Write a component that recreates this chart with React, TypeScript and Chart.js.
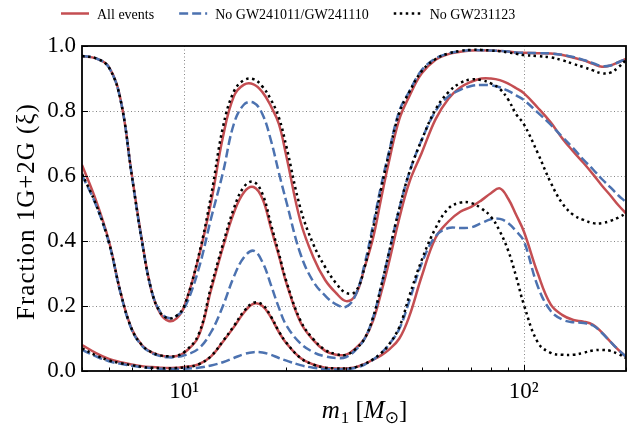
import { useEffect, useRef } from "react";
import { Chart, registerables } from "chart.js";

Chart.register(...registerables);

// primary mass grid (M_sun)
const masses = [5, 5.5, 6, 6.5, 7, 7.5, 8, 8.5, 9, 9.5, 10, 11, 12, 13, 14, 15, 16, 17, 18, 19, 20, 22, 24, 26, 28, 30, 32, 34, 36, 38, 40, 43, 46, 50, 55, 60, 65, 70, 75, 80, 85, 90, 95, 100, 110, 120, 130, 140, 150, 160, 170, 180, 190, 200];

// All events
const allUpper = [0.969, 0.962, 0.936, 0.834, 0.608, 0.405, 0.249, 0.177, 0.154, 0.162, 0.198, 0.345, 0.52, 0.72, 0.845, 0.881, 0.882, 0.858, 0.815, 0.76, 0.66, 0.46, 0.35, 0.28, 0.24, 0.215, 0.235, 0.32, 0.41, 0.53, 0.64, 0.775, 0.845, 0.915, 0.958, 0.975, 0.982, 0.986, 0.987, 0.986, 0.985, 0.983, 0.98, 0.979, 0.978, 0.977, 0.972, 0.964, 0.956, 0.945, 0.936, 0.94, 0.95, 0.96];
const allMid = [0.634, 0.524, 0.4, 0.24, 0.13, 0.08, 0.058, 0.048, 0.044, 0.046, 0.056, 0.105, 0.25, 0.38, 0.487, 0.55, 0.566, 0.53, 0.44, 0.355, 0.27, 0.15, 0.095, 0.062, 0.05, 0.05, 0.07, 0.1, 0.155, 0.24, 0.33, 0.47, 0.58, 0.67, 0.775, 0.838, 0.872, 0.89, 0.9, 0.9, 0.895, 0.884, 0.87, 0.855, 0.81, 0.765, 0.715, 0.675, 0.64, 0.605, 0.57, 0.54, 0.51, 0.485];
const allLow = [0.08, 0.055, 0.037, 0.027, 0.02, 0.015, 0.012, 0.01, 0.009, 0.01, 0.012, 0.02, 0.045, 0.09, 0.135, 0.18, 0.207, 0.2, 0.165, 0.12, 0.085, 0.04, 0.02, 0.01, 0.008, 0.008, 0.012, 0.022, 0.035, 0.048, 0.065, 0.1, 0.168, 0.29, 0.41, 0.46, 0.49, 0.505, 0.525, 0.547, 0.562, 0.53, 0.48, 0.43, 0.3, 0.205, 0.172, 0.157, 0.152, 0.142, 0.118, 0.09, 0.065, 0.044];

// No GW241011/GW241110
const noPairUpper = [0.969, 0.962, 0.934, 0.832, 0.605, 0.402, 0.25, 0.182, 0.163, 0.17, 0.192, 0.31, 0.47, 0.61, 0.76, 0.82, 0.826, 0.79, 0.71, 0.61, 0.52, 0.36, 0.275, 0.232, 0.205, 0.198, 0.235, 0.33, 0.45, 0.57, 0.67, 0.8, 0.86, 0.925, 0.962, 0.977, 0.984, 0.987, 0.987, 0.986, 0.985, 0.983, 0.98, 0.979, 0.978, 0.977, 0.973, 0.966, 0.957, 0.947, 0.938, 0.94, 0.95, 0.96];
const noPairMid = [0.603, 0.51, 0.395, 0.238, 0.128, 0.078, 0.056, 0.046, 0.042, 0.043, 0.048, 0.068, 0.12, 0.2, 0.29, 0.35, 0.37, 0.335, 0.265, 0.195, 0.14, 0.085, 0.058, 0.045, 0.04, 0.043, 0.065, 0.1, 0.165, 0.26, 0.36, 0.5, 0.61, 0.71, 0.8, 0.845, 0.865, 0.877, 0.88, 0.879, 0.873, 0.862, 0.848, 0.834, 0.795, 0.758, 0.72, 0.685, 0.65, 0.62, 0.59, 0.565, 0.54, 0.52];
const noPairLow = [0.065, 0.045, 0.03, 0.022, 0.016, 0.012, 0.009, 0.007, 0.006, 0.006, 0.007, 0.01, 0.017, 0.027, 0.04, 0.052, 0.058, 0.057, 0.05, 0.04, 0.032, 0.018, 0.01, 0.006, 0.005, 0.006, 0.01, 0.02, 0.035, 0.055, 0.08, 0.13, 0.215, 0.33, 0.415, 0.44, 0.44, 0.442, 0.455, 0.467, 0.468, 0.455, 0.43, 0.4, 0.26, 0.185, 0.158, 0.15, 0.148, 0.14, 0.117, 0.09, 0.065, 0.044];

// No GW231123
const noBigUpper = [0.969, 0.962, 0.934, 0.832, 0.605, 0.402, 0.25, 0.18, 0.162, 0.17, 0.2, 0.35, 0.54, 0.75, 0.86, 0.895, 0.898, 0.875, 0.835, 0.78, 0.69, 0.5, 0.39, 0.32, 0.27, 0.24, 0.245, 0.32, 0.44, 0.56, 0.665, 0.795, 0.858, 0.922, 0.96, 0.977, 0.985, 0.988, 0.988, 0.986, 0.984, 0.98, 0.976, 0.972, 0.969, 0.965, 0.956, 0.945, 0.935, 0.925, 0.916, 0.918, 0.935, 0.957];
const noBigMid = [0.607, 0.512, 0.396, 0.24, 0.13, 0.08, 0.058, 0.048, 0.045, 0.047, 0.058, 0.11, 0.26, 0.39, 0.5, 0.567, 0.582, 0.545, 0.452, 0.362, 0.275, 0.155, 0.098, 0.065, 0.052, 0.05, 0.068, 0.1, 0.165, 0.26, 0.36, 0.5, 0.61, 0.71, 0.805, 0.858, 0.886, 0.897, 0.895, 0.885, 0.868, 0.835, 0.79, 0.76, 0.67, 0.58, 0.515, 0.48, 0.465, 0.455, 0.455, 0.462, 0.472, 0.485];
const noBigLow = [0.07, 0.048, 0.033, 0.024, 0.018, 0.013, 0.01, 0.009, 0.008, 0.009, 0.011, 0.02, 0.046, 0.092, 0.138, 0.184, 0.21, 0.204, 0.168, 0.122, 0.087, 0.04, 0.02, 0.01, 0.008, 0.008, 0.012, 0.022, 0.036, 0.055, 0.08, 0.135, 0.23, 0.34, 0.44, 0.5, 0.518, 0.517, 0.5, 0.475, 0.43, 0.37, 0.29, 0.205, 0.088, 0.056, 0.05, 0.05, 0.056, 0.063, 0.065, 0.062, 0.052, 0.04];

const legendLabels = ["All events", "No GW241011/GW241110", "No GW231123"];
const yTickValues = [0, 0.2, 0.4, 0.6, 0.8, 1.0];
const xMajorTicks = [10, 100];
const xMinorTicks = [5, 6, 7, 8, 9, 20, 30, 40, 50, 60, 70, 80, 90, 200];
const xTickLabels: Record<number, string> = { 10: "10¹", 100: "10²" };
const yTitle = "Fraction 1G+2G (ξ)";

const RED = "#C44E52";
const BLUE = "#4C72B0";
const BLACK = "#000000";
const SERIF = "'Liberation Serif', 'DejaVu Serif', serif";
const styles = [
  { color: RED, dash: [] as number[] },
  { color: BLUE, dash: [9, 4] },
  { color: BLACK, dash: [2.5, 3.5] },
];

export default function App() {
  const ref = useRef<HTMLCanvasElement>(null);

  useEffect(() => {
    document.body.style.margin = "0";
    const canvas = ref.current;
    if (!canvas) return;

    const mk = (label: string, arr: number[], g: number, order: number) => ({
      label,
      data: masses.map((m, i) => ({ x: m, y: arr[i] })),
      borderColor: styles[g].color,
      borderDash: styles[g].dash,
      borderWidth: 2.5,
      borderCapStyle: "butt" as const,
      borderJoinStyle: "round" as const,
      pointRadius: 0,
      pointHoverRadius: 0,
      fill: false,
      tension: 0.4,
      order,
    });

    const deco = {
      id: "deco",
      beforeDatasetsDraw(chart: any) {
        const { ctx, chartArea: a, scales } = chart;
        const x = scales.x, y = scales.y;
        ctx.save();
        ctx.strokeStyle = "rgba(120,120,120,0.9)";
        ctx.lineWidth = 1;
        ctx.setLineDash([1, 2.5]);
        yTickValues.forEach((v) => {
          if (v <= 0 || v >= 1) return;
          const py = Math.round(y.getPixelForValue(v)) + 0.5;
          ctx.beginPath(); ctx.moveTo(a.left, py); ctx.lineTo(a.right, py); ctx.stroke();
        });
        xMajorTicks.forEach((v) => {
          const px = Math.round(x.getPixelForValue(v)) + 0.5;
          ctx.beginPath(); ctx.moveTo(px, a.top); ctx.lineTo(px, a.bottom); ctx.stroke();
        });
        ctx.restore();
      },
      afterDatasetsDraw(chart: any) {
        const { ctx, chartArea: a, scales } = chart;
        const x = scales.x, y = scales.y;
        ctx.save();
        ctx.setLineDash([]);
        ctx.strokeStyle = "#000";
        ctx.lineWidth = 1;
        yTickValues.forEach((v) => {
          const py = Math.round(y.getPixelForValue(v)) + 0.5;
          ctx.beginPath(); ctx.moveTo(a.left, py); ctx.lineTo(a.left + 6, py); ctx.stroke();
        });
        xMajorTicks.forEach((v) => {
          const px = Math.round(x.getPixelForValue(v)) + 0.5;
          ctx.beginPath(); ctx.moveTo(px, a.bottom); ctx.lineTo(px, a.bottom - 6); ctx.stroke();
        });
        xMinorTicks.forEach((v) => {
          const px = Math.round(x.getPixelForValue(v)) + 0.5;
          ctx.beginPath(); ctx.moveTo(px, a.bottom); ctx.lineTo(px, a.bottom - 3.5); ctx.stroke();
        });
        ctx.lineWidth = 1.8;
        ctx.strokeRect(a.left, a.top, a.right - a.left, a.bottom - a.top);
        ctx.restore();
      },
      afterDraw(chart: any) {
        const { ctx, chartArea: a } = chart;
        ctx.save();
        ctx.font = `14px ${SERIF}`;
        ctx.textBaseline = "alphabetic";
        let lx = 61;
        legendLabels.forEach((t, i) => {
          ctx.strokeStyle = styles[i].color;
          ctx.lineWidth = 2.5;
          ctx.setLineDash(styles[i].dash);
          ctx.beginPath(); ctx.moveTo(lx, 13.5); ctx.lineTo(lx + 28, 13.5); ctx.stroke();
          ctx.setLineDash([]);
          ctx.fillStyle = "#000";
          ctx.fillText(t, lx + 36, 19);
          lx += 36 + ctx.measureText(t).width + 25;
        });
        ctx.save();
        ctx.translate(27, (a.top + a.bottom) / 2 + 3);
        ctx.rotate(-Math.PI / 2);
        ctx.font = `25px ${SERIF}`;
        (ctx as any).letterSpacing = "1px";
        ctx.textAlign = "center";
        ctx.textBaseline = "middle";
        ctx.fillStyle = "#000";
        ctx.fillText(yTitle, 0, 0);
        ctx.restore();
        const parts = [
          { t: "m", f: `italic 25px ${SERIF}`, dy: 0 },
          { t: "1", f: `17px ${SERIF}`, dy: 5 },
          { t: " [", f: `25px ${SERIF}`, dy: 0 },
          { t: "M", f: `italic 25px ${SERIF}`, dy: 0 },
          { t: "⊙", f: `17px 'DejaVu Sans', sans-serif`, dy: 5 },
          { t: "]", f: `25px ${SERIF}`, dy: 0 },
        ];
        let total = 0;
        const widths = parts.map((p) => { ctx.font = p.f; const w = ctx.measureText(p.t).width; total += w; return w; });
        let tx = 364 - total / 2;
        ctx.fillStyle = "#000";
        ctx.textBaseline = "alphabetic";
        parts.forEach((p, i) => {
          ctx.font = p.f;
          ctx.fillText(p.t, tx, 418 + p.dy);
          tx += widths[i] + (i === 0 ? 1 : 0);
        });
        ctx.restore();
      },
    };

    const chart = new Chart(canvas, {
      type: "line",
      data: {
        datasets: [
          mk(legendLabels[0], allUpper, 0, 3),
          mk(legendLabels[0], allMid, 0, 3),
          mk(legendLabels[0], allLow, 0, 3),
          mk(legendLabels[1], noPairUpper, 1, 2),
          mk(legendLabels[1], noPairMid, 1, 2),
          mk(legendLabels[1], noPairLow, 1, 2),
          mk(legendLabels[2], noBigUpper, 2, 1),
          mk(legendLabels[2], noBigMid, 2, 1),
          mk(legendLabels[2], noBigLow, 2, 1),
        ],
      },
      options: {
        responsive: false,
        animation: false,
        events: [],
        layout: { padding: { left: 0, top: 46, right: 16, bottom: 0 } },
        plugins: { legend: { display: false }, tooltip: { enabled: false }, title: { display: false } },
        scales: {
          x: {
            type: "logarithmic",
            min: 5,
            max: 200,
            afterBuildTicks: (s: any) => { s.ticks = xMajorTicks.map((v) => ({ value: v })); },
            afterFit: (s: any) => { s.height = 62; },
            grid: { display: false, drawTicks: false },
            border: { display: false },
            ticks: {
              autoSkip: false,
              maxRotation: 0,
              padding: 7,
              color: "#000",
              font: { family: SERIF, size: 23 },
              callback: (v: any) => xTickLabels[v as number] ?? "",
            },
          },
          y: {
            min: 0,
            max: 1,
            afterBuildTicks: (s: any) => { s.ticks = yTickValues.map((v) => ({ value: v })); },
            afterFit: (s: any) => { s.width = 82; },
            grid: { display: false, drawTicks: false },
            border: { display: false },
            ticks: {
              padding: 6,
              color: "#000",
              font: { family: SERIF, size: 23 },
              callback: (v: any) => Number(v).toFixed(1),
            },
          },
        },
      },
      plugins: [deco],
    } as any);

    return () => chart.destroy();
  }, []);

  return (
    <div style={{ width: 642, height: 433 }}>
      <canvas ref={ref} width={642} height={433} style={{ display: "block" }} />
    </div>
  );
}
